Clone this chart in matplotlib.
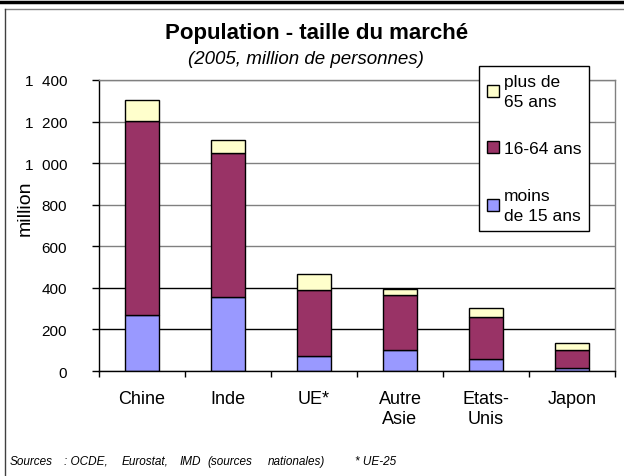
import numpy as np
import matplotlib.pyplot as plt
from matplotlib.lines import Line2D
from matplotlib.patches import Patch
from matplotlib.ticker import FuncFormatter

# donnees (millions, 2005)
pays = ['Chine', 'Inde', 'UE*', 'Autre\nAsie', 'Etats-\nUnis', 'Japon']
moins_15 = [268, 355, 73, 103, 58, 16]
age_16_64 = [935, 694, 317, 262, 204, 85]
plus_65 = [100, 64, 79, 30, 40, 34]
yticks = [0, 200, 400, 600, 800, 1000, 1200, 1400]

c_bleu = '#9999FF'
c_violet = '#993366'
c_jaune = '#FFFFCC'

narrow = ['Liberation Sans Narrow', 'Liberation Sans', 'DejaVu Sans']
normal = ['Liberation Sans', 'DejaVu Sans']
plt.rcParams['font.family'] = normal

W, H = 624, 477
f = plt.figure(figsize=(W / 100, H / 100), dpi=100)
ax = f.add_axes([99 / W, 1 - 372 / H, (615 - 99) / W, (372 - 81) / H])

x = np.arange(len(pays))
b1 = np.array(moins_15)
b2 = np.array(age_16_64)
b3 = np.array(plus_65)
ax.bar(x, b1, width=0.4, color=c_bleu, edgecolor='black', linewidth=1)
ax.bar(x, b2, width=0.4, bottom=b1, color=c_violet, edgecolor='black', linewidth=1)
ax.bar(x, b3, width=0.4, bottom=b1 + b2, color=c_jaune, edgecolor='black', linewidth=1)

ax.set_xlim(-0.5, len(pays) - 0.5)
ax.set_ylim(0, 1400)
ax.set_yticks(yticks)
ax.yaxis.set_major_formatter(FuncFormatter(lambda v, p: '{:,}'.format(int(v)).replace(',', '  ')))
ax.set_axisbelow(True)
ax.grid(axis='y', color='#808080', linewidth=1)
for v, gl in zip(yticks, ax.get_ygridlines()):
    if v in (200, 400):
        gl.set_color('black')

ax.set_xticks(x)
ax.set_xticklabels(pays, fontsize=13)
ax.set_xticks(np.arange(-0.5, len(pays)), minor=True)
ax.tick_params(axis='x', which='major', length=0, pad=14)
ax.tick_params(axis='x', which='minor', length=4.5, direction='out', width=1)
ax.tick_params(axis='y', length=5, direction='out', width=1, pad=18)
for lab in ax.get_yticklabels():
    lab.set_family(narrow)
    lab.set_fontsize(11)

ax.spines['top'].set_color('#808080')
ax.spines['right'].set_color('#808080')
for s in ax.spines.values():
    s.set_linewidth(1)

f.text(25 / W, 1 - 208 / H, 'million', rotation=90, ha='center', va='center',
       fontsize=14, family=narrow)

f.text(0.508, 1 - 33 / H, 'Population - taille du marché', ha='center', va='center',
       fontsize=16, fontweight='bold')
f.text(0.49, 1 - 60 / H, '(2005, million de personnes)', ha='center', va='center',
       fontsize=13.5, style='italic')

handles = [Patch(facecolor=c_jaune, edgecolor='black'),
           Patch(facecolor=c_violet, edgecolor='black'),
           Patch(facecolor=c_bleu, edgecolor='black')]
labels = ['plus de\n65 ans', '16-64 ans', 'moins\nde 15 ans']
leg = ax.legend(handles, labels, loc='upper left', bbox_to_anchor=(479 / W, 1 - 67 / H),
                bbox_transform=f.transFigure, borderaxespad=0, fontsize=12.5,
                fancybox=False, framealpha=1, edgecolor='black',
                handlelength=0.7, handleheight=0.7, handletextpad=0.3,
                labelspacing=1.85, borderpad=0.45)
leg.get_frame().set_linewidth(1)
for t in leg.get_texts():
    t.set_linespacing(1.4)

# cadre
f.add_artist(Line2D([0, 1], [1 - 3 / H, 1 - 3 / H], color='black', linewidth=2.5))
f.add_artist(Line2D([4.5 / W, 1], [1 - 9.5 / H, 1 - 9.5 / H], color='#808080', linewidth=1))
f.add_artist(Line2D([4.5 / W, 4.5 / W], [0, 1 - 9.5 / H], color='#404040', linewidth=1))

# sources
mots = ['Sources', ': OCDE,', 'Eurostat,', 'IMD', '(sources', 'nationales)', '* UE-25']
pos = [10, 64, 122, 180, 207, 268, 355]
for m, p in zip(mots, pos):
    f.text(p / W, 1 - 462 / H, m, ha='left', va='center', fontsize=8.5,
           style='italic', family=narrow)

plt.savefig('out.png', dpi=100)
